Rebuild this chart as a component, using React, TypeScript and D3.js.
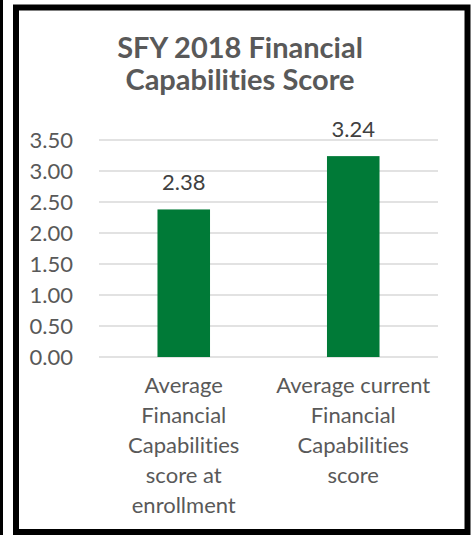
import React, { useEffect, useRef } from 'react';
import * as d3 from 'd3';

const categories: string[][] = [
  ['Average', 'Financial', 'Capabilities', 'score at', 'enrollment'],
  ['Average current', 'Financial', 'Capabilities', 'score'],
];
const scores: number[] = [2.38, 3.24];
const yTicks: number[] = [0, 0.5, 1, 1.5, 2, 2.5, 3, 3.5];
const titleLines: string[] = ['SFY 2018 Financial', 'Capabilities Score'];

const App = () => {
  const svgRef = useRef<SVGSVGElement>(null);

  useEffect(() => {
    const width = 475;
    const height = 535;
    const font = 'Lato, "Open Sans", sans-serif';

    const svg = d3.select(svgRef.current);
    svg.selectAll('*').remove();
    svg.attr('width', width).attr('height', height)
      .style('font-variant-ligatures', 'none')
      .style('font-feature-settings', '"liga" 0');

    svg.append('rect').attr('width', width).attr('height', height).attr('fill', '#fff');

    // stray edge line and chart frame
    svg.append('rect').attr('x', 0).attr('y', 0).attr('width', 3).attr('height', height).attr('fill', '#000');
    svg.append('rect')
      .attr('x', 16).attr('y', 7.5)
      .attr('width', 451.5).attr('height', 524.5)
      .attr('fill', 'none')
      .attr('stroke', '#000')
      .attr('stroke-width', 6);

    const keys = categories.map((_, i) => String(i));
    const x = d3.scaleBand().domain(keys).range([99, 438]).padding(0);
    const y = d3.scaleLinear().domain([0, 3.5]).range([357, 140]);
    const barW = x.bandwidth() * 0.31;

    // title
    svg.append('g')
      .selectAll('text')
      .data(titleLines)
      .join('text')
      .attr('x', 240)
      .attr('y', (_, i) => 58 + i * 32)
      .attr('text-anchor', 'middle')
      .style('font-family', font)
      .style('font-size', '29px')
      .style('font-weight', 'bold')
      .style('fill', '#595959')
      .text(d => d);

    // gridlines
    svg.append('g')
      .selectAll('line')
      .data(yTicks)
      .join('line')
      .attr('x1', 99)
      .attr('x2', 438)
      .attr('y1', d => y(d))
      .attr('y2', d => y(d))
      .attr('stroke', '#d9d9d9')
      .attr('stroke-width', 1.5);

    // y tick labels
    svg.append('g')
      .selectAll('text')
      .data(yTicks)
      .join('text')
      .attr('x', 73)
      .attr('y', d => y(d) + 8)
      .attr('text-anchor', 'end')
      .style('font-family', font)
      .style('font-size', '22px')
      .style('fill', '#595959')
      .text(d => d3.format('.2f')(d));

    // bars
    svg.append('g')
      .selectAll('rect')
      .data(scores)
      .join('rect')
      .attr('x', (_, i) => (x(keys[i]) as number) + (x.bandwidth() - barW) / 2)
      .attr('y', d => y(d))
      .attr('width', barW)
      .attr('height', d => y(0) - y(d))
      .attr('fill', '#007a37');

    // data labels
    svg.append('g')
      .selectAll('text')
      .data(scores)
      .join('text')
      .attr('x', (_, i) => (x(keys[i]) as number) + x.bandwidth() / 2)
      .attr('y', d => y(d) - 19)
      .attr('text-anchor', 'middle')
      .style('font-family', font)
      .style('font-size', '22px')
      .style('fill', '#404040')
      .text(d => d3.format('.2f')(d));

    // category labels
    categories.forEach((lines, i) => {
      svg.append('g')
        .selectAll('text')
        .data(lines)
        .join('text')
        .attr('x', (x(keys[i]) as number) + x.bandwidth() / 2)
        .attr('y', (_, j) => 393 + j * 30)
        .attr('text-anchor', 'middle')
        .style('font-family', font)
        .style('font-size', '22px')
        .style('fill', '#595959')
        .text(d => d);
    });
  }, []);

  return <svg ref={svgRef} style={{ position: 'absolute', left: 0, top: 0, display: 'block' }}></svg>;
};

export default App;
